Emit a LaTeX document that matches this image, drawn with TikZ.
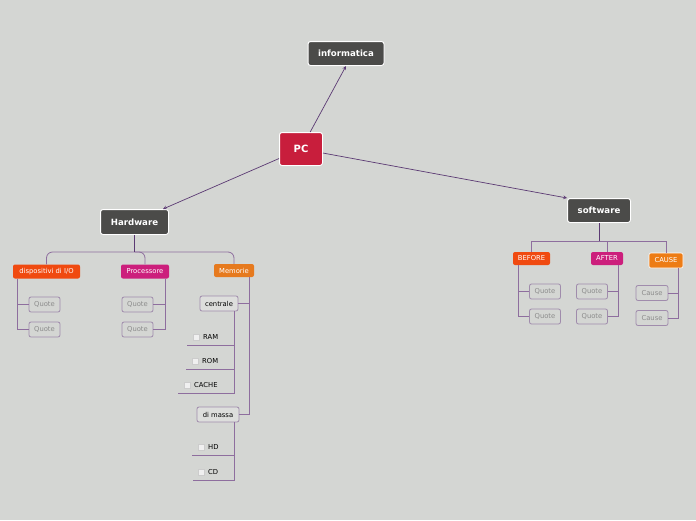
\documentclass[tikz,border=0pt]{standalone}
\usepackage{fontspec}
\setmainfont{DejaVu Sans}
\usetikzlibrary{arrows.meta,shadows}
\definecolor{bgc}{HTML}{D4D6D3}
\definecolor{darkc}{HTML}{4B4B49}
\definecolor{pcred}{HTML}{C81E3C}
\definecolor{linec}{HTML}{5B3A73}
\definecolor{brc}{HTML}{8E6E9E}
\definecolor{qbord}{HTML}{A08CAC}
\definecolor{qtext}{HTML}{8C8C8C}
\definecolor{redor}{HTML}{F04A10}
\definecolor{magc}{HTML}{CC1F7C}
\definecolor{oranc}{HTML}{E67A1E}
\begin{document}
\begin{tikzpicture}[x=1pt,y=-1pt,>=stealth,
  every node/.style={font=\fontsize{6.8}{8}\selectfont,inner sep=0pt},
  main/.style={draw=white,line width=1pt,rounded corners=2.5pt,fill=darkc,text=white,font=\fontsize{8.6}{10}\selectfont\bfseries,drop shadow={opacity=.25,shadow xshift=.5pt,shadow yshift=-.5pt}},
  sub/.style={rounded corners=2pt,text=white,minimum height=14},
  quote/.style={draw=qbord,line width=.8pt,rounded corners=2pt,text=qtext,minimum width=31,minimum height=15},
  mbox/.style={draw=qbord,line width=.8pt,rounded corners=2pt,fill=bgc!80!white,text=black,minimum height=15},
  chk/.style={draw=black!20,fill=black!6,minimum size=6},
  arr/.style={->,draw=linec,line width=.7pt},
  branch/.style={draw=brc,line width=.8pt}]
\fill[bgc] (0,0) rectangle (696,520);
\useasboundingbox (0,0) rectangle (696,520);
% central topics
\node[main,fill=pcred,minimum width=43,minimum height=33,font=\fontsize{10}{11}\selectfont\bfseries] (pc) at (301,149) {PC};
\node[main,minimum width=76,minimum height=24] (inf) at (346,53.5) {informatica};
\node[main,minimum width=68,minimum height=25] (hw) at (134.5,222) {Hardware};
\node[main,minimum width=63,minimum height=24] (sw) at (599,210.5) {software};
\coordinate (hwj) at (hw.south |- 0,252);
\coordinate (swj) at (sw.south |- 0,241);
\draw[arr] (pc) -- (inf.south);
\draw[arr] (pc) -- ([xshift=-6pt]hw.north east);
\draw[arr] (pc) -- (sw.north west);
% Hardware
\node[sub,fill=redor,minimum width=67] (dio) at (46.5,271.5) {dispositivi di I/O};
\node[sub,fill=magc,minimum width=48] (pro) at (145,271.5) {Processore};
\node[sub,fill=oranc,minimum width=40,minimum height=13] (mem) at (234,270.5) {Memorie};
\draw[branch,rounded corners=6pt] (hwj) -| (dio.north);
\draw[branch,rounded corners=6pt] (hwj) -| (pro.north);
\draw[branch,rounded corners=6pt] (hwj) -| (mem.north);
\draw[branch,draw=linec] (hw.south) -- (hwj);
\node[quote] (dq1) at (44.5,304.5) {Quote};
\node[quote] (dq2) at (44.5,329.5) {Quote};
\node[quote] (pq1) at (137.5,304.5) {Quote};
\node[quote] (pq2) at (137.5,329.5) {Quote};
\draw[branch] ([xshift=5pt]dio.south west) |- (dq1.west);
\draw[branch] ([xshift=5pt]dio.south west) |- (dq2.west);
\draw[branch] ([xshift=-4pt]pro.south east) |- (pq1.east);
\draw[branch] ([xshift=-4pt]pro.south east) |- (pq2.east);
% Memorie
\node[mbox,minimum width=38] (cen) at (219,303.5) {centrale};
\node[mbox,minimum width=42] (mas) at (218,414.5) {di massa};
\draw[branch] ([xshift=-5pt]mem.south east) |- (cen.east);
\draw[branch] ([xshift=-5pt]mem.south east) |- (mas.east);
\node[chk] (ramc) at (196,337) {};
\node[anchor=west] (ram) at (203,337) {RAM};
\node[chk] (romc) at (195,361) {};
\node[anchor=west] (rom) at (202,361) {ROM};
\node[chk] (cachec) at (187,385) {};
\node[anchor=west] (cache) at (194,385) {CACHE};
\node[chk] (hdc) at (201,447) {};
\node[anchor=west] (hd) at (208,447) {HD};
\node[chk] (cdc) at (201,472) {};
\node[anchor=west] (cd) at (208,472) {CD};
\coordinate (ramL) at (187,345);
\coordinate (romL) at (186,369);
\coordinate (cacheL) at (178,393);
\coordinate (hdL) at (192,455);
\coordinate (cdL) at (193,480);
\draw[branch] ([xshift=-4pt]cen.south east) |- (ramL);
\draw[branch] ([xshift=-4pt]cen.south east) |- (romL);
\draw[branch] ([xshift=-4pt]cen.south east) |- (cacheL);
\draw[branch] ([xshift=-5pt]mas.south east) |- (hdL);
\draw[branch] ([xshift=-5pt]mas.south east) |- (cdL);
% software
\node[sub,fill=redor,minimum width=37,minimum height=13] (bef) at (531.5,258.5) {BEFORE};
\node[sub,fill=magc,minimum width=32,minimum height=13] (aft) at (607,258.5) {AFTER};
\node[sub,fill=oranc!70!orange,draw=white,line width=.6pt,minimum width=34,minimum height=15] (cau) at (666,260.5) {CAUSE};
\draw[branch] (swj) -| (bef.north);
\draw[branch] (swj) -| (aft.north);
\draw[branch] (swj) -| (cau.north);
\draw[branch,draw=linec] (sw.south) -- (swj);
\node[quote] (bq1) at (545,291.5) {Quote};
\node[quote] (bq2) at (545,316.5) {Quote};
\node[quote] (aq1) at (592,291.5) {Quote};
\node[quote] (aq2) at (592,316.5) {Quote};
\node[quote,minimum width=32] (cq1) at (652,293) {Cause};
\node[quote,minimum width=32] (cq2) at (652,318) {Cause};
\draw[branch] ([xshift=6pt]bef.south west) |- (bq1.west);
\draw[branch] ([xshift=6pt]bef.south west) |- (bq2.west);
\draw[branch] ([xshift=-5pt]aft.south east) |- (aq1.east);
\draw[branch] ([xshift=-5pt]aft.south east) |- (aq2.east);
\draw[branch] ([xshift=-5pt]cau.south east) |- (cq1.east);
\draw[branch] ([xshift=-5pt]cau.south east) |- (cq2.east);
\end{tikzpicture}
\end{document}
